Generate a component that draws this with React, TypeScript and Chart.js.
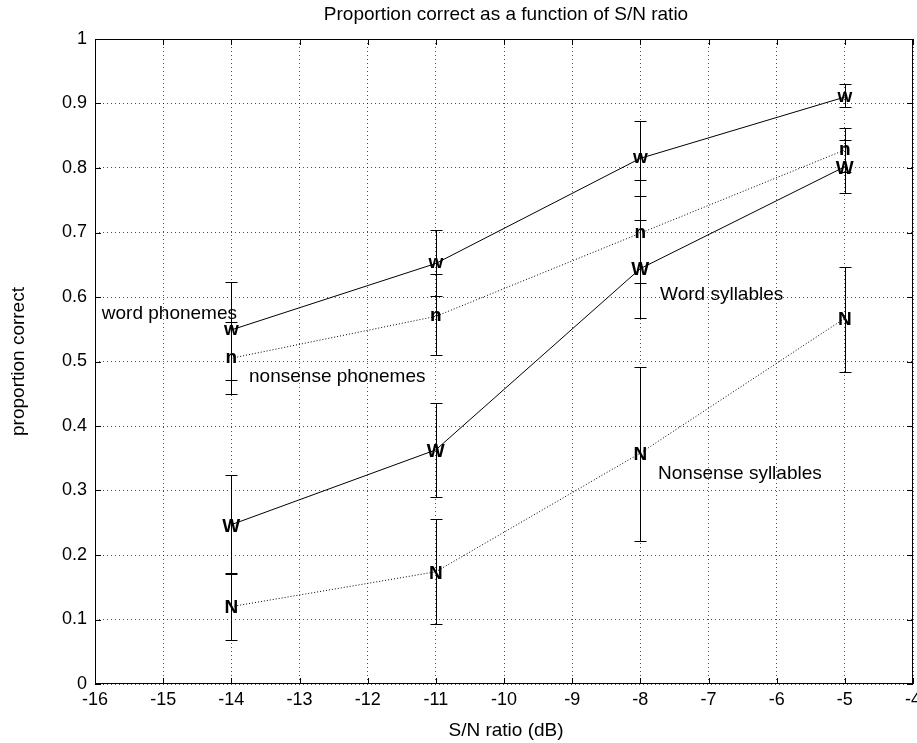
import React, { useEffect, useRef } from "react";
import { Chart, registerables } from "chart.js";

Chart.register(...registerables);

const snr = [-14, -11, -8, -5];

const wordPhon = [0.549, 0.652, 0.815, 0.91];
const wordPhonLow = [0.472, 0.602, 0.756, 0.894];
const wordPhonHigh = [0.624, 0.704, 0.873, 0.93];

const nonPhon = [0.505, 0.57, 0.699, 0.828];
const nonPhonLow = [0.449, 0.51, 0.622, 0.794];
const nonPhonHigh = [0.562, 0.636, 0.781, 0.862];

const wordSyl = [0.247, 0.363, 0.644, 0.802];
const wordSylLow = [0.171, 0.29, 0.567, 0.761];
const wordSylHigh = [0.324, 0.436, 0.719, 0.843];

const nonSyl = [0.12, 0.174, 0.358, 0.567];
const nonSylLow = [0.068, 0.093, 0.222, 0.484];
const nonSylHigh = [0.172, 0.256, 0.492, 0.647];

const seriesMarkers = ["w", "n", "W", "N"];

const titleText = "Proportion correct as a function of S/N ratio";
const xTitle = "S/N ratio (dB)";
const yTitle = "proportion correct";

const annotations = [
  { text: "word phonemes", x: -15.9, y: 0.574 },
  { text: "nonsense phonemes", x: -13.74, y: 0.476 },
  { text: "Word syllables", x: -7.71, y: 0.604 },
  { text: "Nonsense syllables", x: -7.74, y: 0.326 },
];

const FONT = "Arial, 'Liberation Sans', Helvetica, sans-serif";

export default function App() {
  const ref = useRef<HTMLCanvasElement | null>(null);

  useEffect(() => {
    if (!ref.current) return;
    const series = [
      { v: wordPhon, lo: wordPhonLow, hi: wordPhonHigh, dash: [] as number[] },
      { v: nonPhon, lo: nonPhonLow, hi: nonPhonHigh, dash: [1, 2] },
      { v: wordSyl, lo: wordSylLow, hi: wordSylHigh, dash: [] as number[] },
      { v: nonSyl, lo: nonSylLow, hi: nonSylHigh, dash: [1, 2] },
    ];

    const overlay = {
      id: "overlay",
      beforeDatasetsDraw(chart: any) {
        const { ctx, chartArea: a } = chart;
        const xs = chart.scales.x;
        const ys = chart.scales.y;
        ctx.save();
        ctx.strokeStyle = "#000";
        ctx.lineWidth = 1;
        ctx.setLineDash([]);
        const tl = 6;
        for (let v = -16; v <= -4; v++) {
          const px = Math.round(xs.getPixelForValue(v)) + 0.5;
          ctx.beginPath();
          ctx.moveTo(px, a.bottom);
          ctx.lineTo(px, a.bottom - tl);
          ctx.moveTo(px, a.top);
          ctx.lineTo(px, a.top + tl);
          ctx.stroke();
        }
        for (let i = 0; i <= 10; i++) {
          const py = Math.round(ys.getPixelForValue(i / 10)) + 0.5;
          ctx.beginPath();
          ctx.moveTo(a.left, py);
          ctx.lineTo(a.left + tl, py);
          ctx.moveTo(a.right, py);
          ctx.lineTo(a.right - tl, py);
          ctx.stroke();
        }
        ctx.strokeRect(Math.round(a.left) + 0.5, Math.round(a.top) + 0.5, Math.round(a.right - a.left) - 1, Math.round(a.bottom - a.top) - 1);
        ctx.restore();
      },
      afterDatasetsDraw(chart: any) {
        const { ctx } = chart;
        const xs = chart.scales.x;
        const ys = chart.scales.y;
        ctx.save();
        ctx.setLineDash([]);
        ctx.strokeStyle = "#000";
        ctx.lineWidth = 1;
        series.forEach((s) => {
          s.v.forEach((_, i) => {
            const px = Math.round(xs.getPixelForValue(snr[i])) + 0.5;
            const t = Math.round(ys.getPixelForValue(s.hi[i])) + 0.5;
            const b = Math.round(ys.getPixelForValue(s.lo[i])) + 0.5;
            ctx.beginPath();
            ctx.moveTo(px, t);
            ctx.lineTo(px, b);
            ctx.moveTo(px - 6, t);
            ctx.lineTo(px + 6, t);
            ctx.moveTo(px - 6, b);
            ctx.lineTo(px + 6, b);
            ctx.stroke();
          });
        });
        const fs = 19;
        ctx.font = `bold ${fs}px ${FONT}`;
        ctx.fillStyle = "#000";
        ctx.textAlign = "center";
        ctx.textBaseline = "alphabetic";
        series.forEach((s, k) => {
          const m = seriesMarkers[k];
          const lower = m === m.toLowerCase();
          s.v.forEach((val, i) => {
            const px = xs.getPixelForValue(snr[i]);
            const py = ys.getPixelForValue(val);
            ctx.fillText(m, px, py + (lower ? 0.26 : 0.36) * fs);
          });
        });
        ctx.font = `19px ${FONT}`;
        ctx.textAlign = "left";
        ctx.textBaseline = "middle";
        annotations.forEach((an) => {
          ctx.fillText(an.text, xs.getPixelForValue(an.x), ys.getPixelForValue(an.y));
        });
        const a = chart.chartArea;
        ctx.textAlign = "center";
        ctx.font = `19px ${FONT}`;
        ctx.fillText(titleText, 506, 15);
        ctx.fillText(xTitle, 506, 731);
        ctx.save();
        ctx.translate(19, (a.top + a.bottom) / 2);
        ctx.rotate(-Math.PI / 2);
        ctx.fillText(yTitle, 0, 0);
        ctx.restore();
        ctx.restore();
      },
    };

    const chart = new Chart(ref.current, {
      type: "line",
      data: {
        datasets: series.map((s, k) => ({
          label: seriesMarkers[k],
          data: s.v.map((y, i) => ({ x: snr[i], y })),
          borderColor: "#000",
          borderWidth: 1,
          borderDash: s.dash,
          pointRadius: 0,
          fill: false,
          tension: 0,
        })),
      },
      options: {
        animation: false,
        responsive: false,
        devicePixelRatio: 1,
        layout: { padding: { top: 39, right: 4, left: 0, bottom: 0 } },
        plugins: { legend: { display: false }, tooltip: { enabled: false }, title: { display: false } },
        scales: {
          x: {
            type: "linear",
            min: -16,
            max: -4,
            afterFit: (s: any) => {
              s.height = 59;
              s.paddingLeft = 0;
              s.paddingRight = 0;
            },
            ticks: { stepSize: 1, color: "#000", font: { size: 18, family: FONT }, padding: 5, maxRotation: 0, autoSkip: false },
            grid: { color: "rgba(0,0,0,0.7)", lineWidth: 1, drawTicks: false },
            border: { display: false, dash: [1, 3] },
          },
          y: {
            type: "linear",
            min: 0,
            max: 1,
            afterFit: (s: any) => {
              s.width = 95;
              s.paddingTop = 0;
              s.paddingBottom = 0;
            },
            ticks: {
              stepSize: 0.1,
              color: "#000",
              font: { size: 18, family: FONT },
              padding: 8,
              callback: (v: any) => String(Number(Number(v).toFixed(1))),
            },
            grid: { color: "rgba(0,0,0,0.7)", lineWidth: 1, drawTicks: false },
            border: { display: false, dash: [1, 3] },
          },
        },
      },
      plugins: [overlay],
    });
    return () => chart.destroy();
  }, []);

  return (
    <div style={{ position: "absolute", left: 0, top: 0, width: 917, height: 743, background: "#fff" }}>
      <canvas ref={ref} width={917} height={743} style={{ width: 917, height: 743 }} />
    </div>
  );
}
